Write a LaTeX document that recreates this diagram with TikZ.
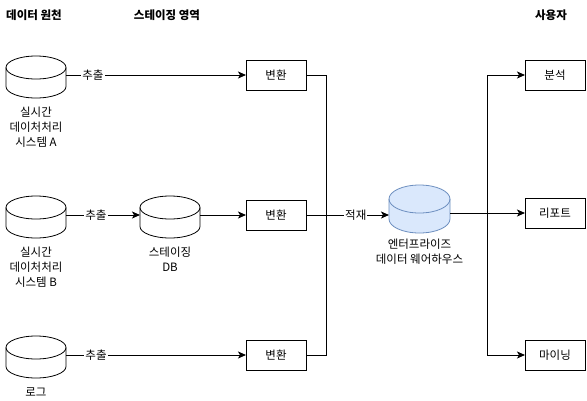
\documentclass[tikz,border=0pt]{standalone}
\usepackage{fontspec}
\setmainfont{Noto Sans CJK KR}
\usetikzlibrary{arrows.meta}
\definecolor{edwfill}{HTML}{DAE8FC}
\definecolor{edwline}{HTML}{6C8EBF}
\tikzset{
  base/.style={font=\fontsize{11.5pt}{15pt}\selectfont},
  title/.style={base, font=\fontsize{11.5pt}{15pt}\selectfont\bfseries},
  procbox/.style={base, draw=black, line width=1pt, minimum width=60pt, minimum height=30pt, inner sep=0pt, outer sep=0pt},
  cylarea/.style={inner sep=0pt, outer sep=0pt},
  caption/.style={base, align=center, inner sep=0pt},
  lbl/.style={base, fill=white, inner sep=1pt},
  conn/.style={line width=1pt, draw=black},
  arr/.style={conn, -{Stealth[length=8pt,width=7pt,inset=2pt]}},
}
% #1 node name, #2 centre, #3 width, #4 height, #5 ellipse y-radius, #6 style
\newcommand{\dbcylinder}[6]{%
  \node[cylarea, minimum width=#3, minimum height=#4] (#1) at #2 {};
  \path[#6] ([yshift=-#5]#1.north west) -- ([yshift=#5]#1.south west)
    arc[start angle=180, end angle=360, x radius=#3/2, y radius=#5]
    -- ([yshift=-#5]#1.north east)
    arc[start angle=0, end angle=180, x radius=#3/2, y radius=#5] -- cycle;
  \path[#6, fill=none] ([yshift=-#5]#1.north west)
    arc[start angle=180, end angle=360, x radius=#3/2, y radius=#5];
}
\begin{document}
\begin{tikzpicture}[x=1pt, y=-1pt]
\useasboundingbox[fill=white] (0,0) rectangle (587,400);

% titles
\node[title] (t1) at (34,15) {데이터 원천};
\node[title] (t2) at (167,15) {스테이징 영역};
\node[title] (t3) at (551,15) {사용자};

% sources
\dbcylinder{srcA}{(36,77)}{60pt}{42pt}{11.5pt}{draw=black, fill=white, line width=0.8pt}
\dbcylinder{srcB}{(36,217)}{60pt}{42pt}{11.5pt}{draw=black, fill=white, line width=0.8pt}
\dbcylinder{srcC}{(36,357)}{60pt}{42pt}{11.5pt}{draw=black, fill=white, line width=0.8pt}
\node[caption] (capA) at (36,127) {실시간\\데이처처리\\시스템 A};
\node[caption] (capB) at (36,267) {실시간\\데이처처리\\시스템 B};
\node[caption] (capC) at (36,392) {로그};

% staging DB
\dbcylinder{stg}{(170,217)}{60pt}{42pt}{11.5pt}{draw=black, fill=white, line width=0.8pt}
\node[caption] (capS) at (170,259.5) {스테이징\\DB};

% transforms
\node[procbox] (tA) at (276,75) {변환};
\node[procbox] (tB) at (276,215) {변환};
\node[procbox] (tC) at (276,355) {변환};

% enterprise data warehouse
\dbcylinder{edw}{(419.5,209)}{61pt}{48pt}{14pt}{draw=edwline, fill=edwfill, line width=0.8pt}
\node[caption] (capE) at (419.5,252) {엔터프라이즈\\데이터 웨어하우스};

% users
\node[procbox] (u1) at (555,75) {분석};
\node[procbox] (u2) at (555,213) {리포트};
\node[procbox] (u3) at (555,355) {마이닝};

% junction points
\coordinate (jLA) at (326,75);
\coordinate (jLC) at (326,355);
\coordinate (jR) at (487,213);
\coordinate (jRA) at (487,75);
\coordinate (jRC) at (487,355);

% extraction
\draw[arr] (srcA.east |- tA.west) -- node[lbl, pos=0.15] {추출} (tA.west);
\draw[arr] (srcB.east |- tB.west) -- node[lbl, pos=0.405] {추출} (stg.west |- tB.west);
\draw[arr] (stg.east |- tB.west) -- (tB.west);
\draw[arr] (srcC.east |- tC.west) -- node[lbl, pos=0.167] {추출} (tC.west);

% load
\draw[conn] (tA.east) -- (jLA) -- (jLC) -- (tC.east);
\draw[arr] (tB.east) -- node[lbl, pos=0.6] {적재} (edw.west |- tB.east);

% distribution
\draw[conn] (edw.east |- jR) -- (jR);
\draw[conn] (jRA) -- (jRC);
\draw[arr] (jRA) -- (u1.west);
\draw[arr] (jR) -- (u2.west);
\draw[arr] (jRC) -- (u3.west);
\end{tikzpicture}
\end{document}
